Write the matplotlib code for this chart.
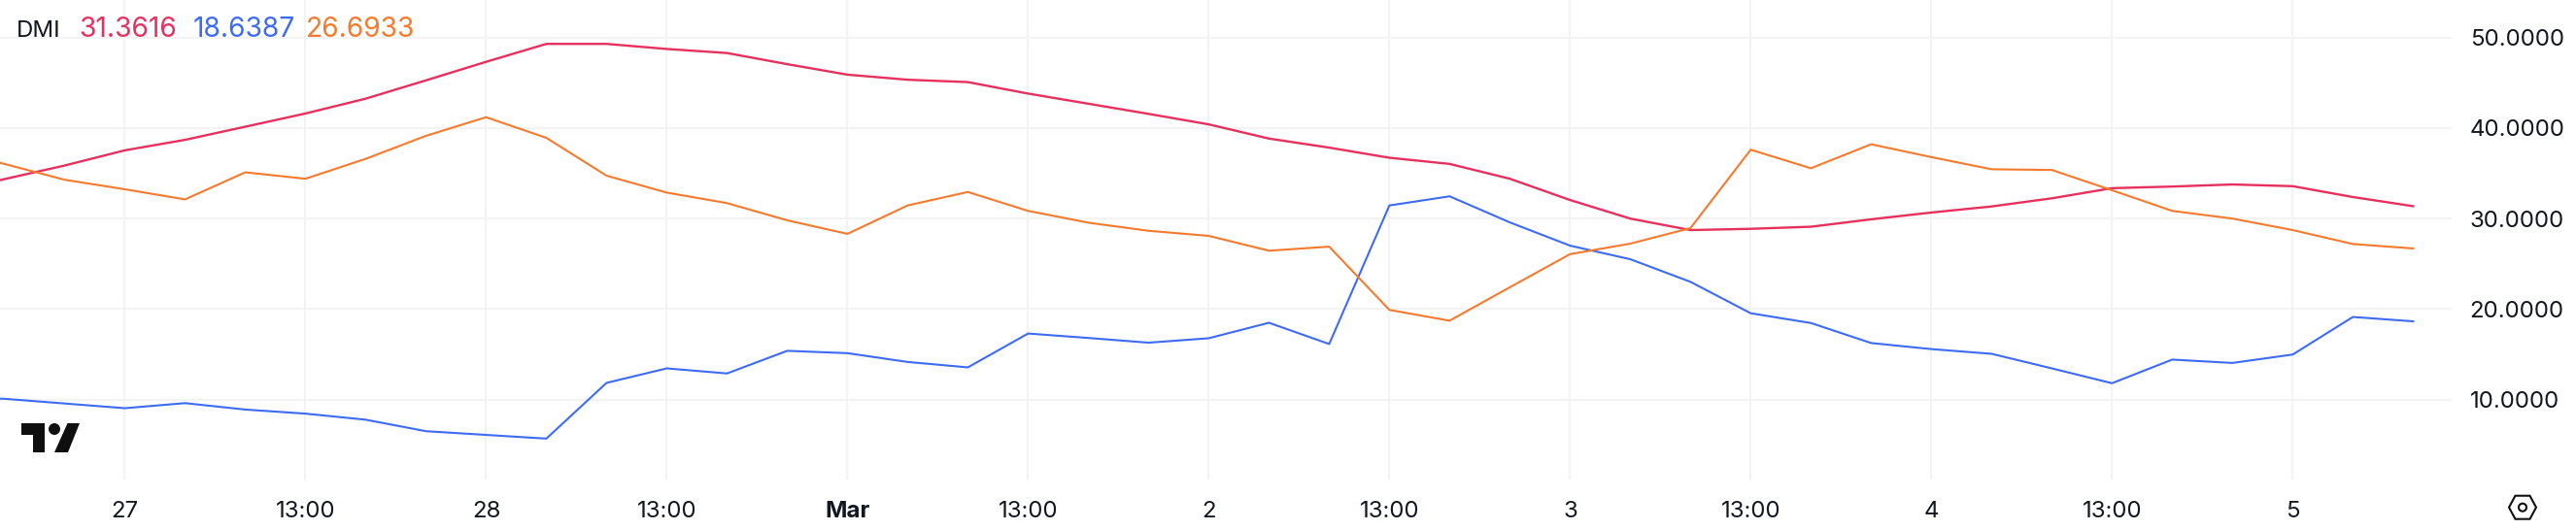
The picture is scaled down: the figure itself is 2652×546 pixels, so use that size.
import matplotlib
matplotlib.use("Agg")
import matplotlib.pyplot as plt
from matplotlib.patches import Polygon, Circle
from matplotlib.transforms import Affine2D

W, H = 2652, 546
plt.rcParams['font.family'] = ['Inter', 'DejaVu Sans']

# 4-hour bars; first entry lies just off the left edge
bar_index = list(range(-1, 41))
adx = [32.80, 34.35, 35.85, 37.53, 38.69, 40.14, 41.60, 43.24, 45.26, 47.31, 49.29, 49.29, 48.73, 48.28,
       47.05, 45.89, 45.33, 45.07, 43.80, 42.68, 41.56, 40.40, 38.83, 37.83, 36.71, 36.03, 34.39,
       32.04, 29.99, 28.72, 28.86, 29.09, 29.91, 30.66, 31.33, 32.23, 33.35, 33.53, 33.76, 33.57, 32.37, 31.36]
plus_di = [10.30, 10.08, 9.56, 9.04, 9.60, 8.89, 8.44, 7.77, 6.50, 6.09, 5.68, 11.84, 13.44, 12.88,
           15.38, 15.12, 14.15, 13.55, 17.29, 16.80, 16.28, 16.77, 18.48, 16.13, 31.44, 32.45, 29.57,
           27.00, 25.50, 23.00, 19.53, 18.45, 16.24, 15.57, 15.05, 13.44, 11.80, 14.41, 14.04, 14.97, 19.12, 18.64]
minus_di = [37.80, 36.03, 34.28, 33.23, 32.11, 35.10, 34.39, 36.59, 39.13, 41.19, 38.91, 34.73, 32.86, 31.70,
            29.80, 28.30, 31.44, 32.93, 30.84, 29.54, 28.64, 28.08, 26.44, 26.89, 19.90, 18.71, 22.40,
            26.06, 27.22, 28.94, 37.60, 35.55, 38.20, 36.78, 35.44, 35.36, 33.12, 30.84, 29.99, 28.72, 27.18, 26.69]
x_ticks = [2, 5, 8, 11, 14, 17, 20, 23, 26, 29, 32, 35, 38]
x_labels = ['27', '13:00', '28', '13:00', 'Mar', '13:00', '2', '13:00', '3', '13:00', '4', '13:00', '5']
y_ticks = [10, 20, 30, 40, 50]
y_labels = ['10.0000', '20.0000', '30.0000', '40.0000', '50.0000']
legend_items = [('DMI', 17, 17.3), ('31.3616', 81, 20.3), ('18.6387', 199, 20.3), ('26.6933', 315, 20.3)]

RED, BLUE, ORANGE, TEXT, GRID = '#E8305F', '#3D6BF6', '#F57A2E', '#131722', '#F3F3F4'

fig = plt.figure(figsize=(W / 100, H / 100), dpi=100, facecolor='white')
ax = fig.add_axes([0, (H - 494) / H, 2524 / W, 494 / H])
ax.set_xlim(-0.0726, 40.64)
ax.set_ylim(1.16, 54.14)
for s in ax.spines.values():
    s.set_visible(False)
ax.set_axisbelow(True)
ax.grid(True, color=GRID, lw=1.5)
ax.set_xticks(x_ticks, x_labels)
ax.set_yticks(y_ticks, y_labels)
ax.yaxis.tick_right()
ax.tick_params(axis='both', length=0, labelsize=17.3, labelcolor=TEXT)
ax.tick_params(axis='x', pad=15.8)
ax.tick_params(axis='y', pad=13.5)
for lab in ax.get_xticklabels():
    if lab.get_text() == 'Mar':
        lab.set_fontweight('bold')

ax.plot(bar_index, adx, color=RED, lw=1.7, solid_joinstyle='round')
ax.plot(bar_index, plus_di, color=BLUE, lw=1.5, solid_joinstyle='round')
ax.plot(bar_index, minus_di, color=ORANGE, lw=1.5, solid_joinstyle='round')

for (txt, lx, fs), col in zip(legend_items, [TEXT, RED, BLUE, ORANGE]):
    fig.text(lx / W, 1 - 37.5 / H, txt, color=col, fontsize=fs, ha='left', va='baseline')

# pixel transform, origin at the top-left of the picture
px = Affine2D().scale(1, -1).translate(0, H) + Affine2D().scale(1 / W, 1 / H) + fig.transFigure
LOGO = '#0F0F0F'
fig.add_artist(Polygon([(22, 436), (46, 436), (46, 466), (34, 466), (34, 448), (22, 448)],
                       closed=True, fc=LOGO, ec='none', transform=px))
fig.add_artist(Circle((56, 442), 6, fc=LOGO, ec='none', transform=px))
fig.add_artist(Polygon([(69.5, 436), (82, 436), (70, 466), (56, 466)], closed=True, fc=LOGO, ec='none', transform=px))
cx, cy = 2597, 522.7
fig.add_artist(Polygon([(cx - 14, cy), (cx - 7.5, cy - 12), (cx + 7.5, cy - 12), (cx + 14, cy),
                        (cx + 7.5, cy + 12), (cx - 7.5, cy + 12)], closed=True, fc='none', ec=LOGO, lw=1.5,
                       transform=px))
fig.add_artist(Circle((cx, cy), 4, fc='none', ec=LOGO, lw=1.5, transform=px))

fig.savefig('out.png', dpi=100, facecolor='white')
